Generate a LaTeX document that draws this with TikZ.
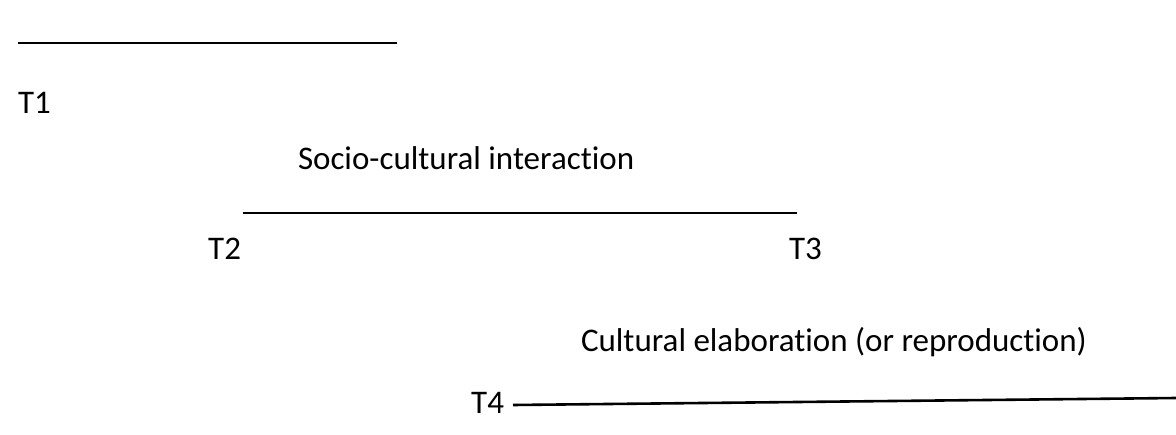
\documentclass[tikz,border=0pt]{standalone}
\usepackage{fontspec}
\setmainfont[Ligatures=NoCommon]{Carlito}
\begin{document}
\begin{tikzpicture}[x=1pt,y=-1pt,
  lbl/.style={inner sep=0pt,outer sep=0pt,font=\fontsize{33}{39}\selectfont},
  rule/.style={line width=2.6pt}]
\useasboundingbox (0,0) rectangle (1176,434);
% time points and phases
\node[lbl,anchor=base west] (t1) at (18,113) {T1};
\node[lbl,anchor=base west] (sci) at (298,169) {Socio-cultural interaction};
\node[lbl,anchor=base east] (t2) at (241,259) {T2};
\node[lbl,anchor=base west] (t3) at (789,259) {T3};
\node[lbl,anchor=base west] (ce) at (581,351) {Cultural elaboration (or reproduction)};
\node[lbl,anchor=base east] (t4) at (504,413) {T4};
% rules
\coordinate (a1) at (18,43);
\coordinate (a2) at (397,43);
\coordinate (b1) at (243,213);
\coordinate (b2) at (797,213);
\coordinate (c1) at (513,405);
\coordinate (c2) at (1176,398);
\draw[rule] (a1) -- (a2);
\draw[rule] (b1) -- (b2);
\draw[rule] (c1) -- (c2);
\end{tikzpicture}
\end{document}
